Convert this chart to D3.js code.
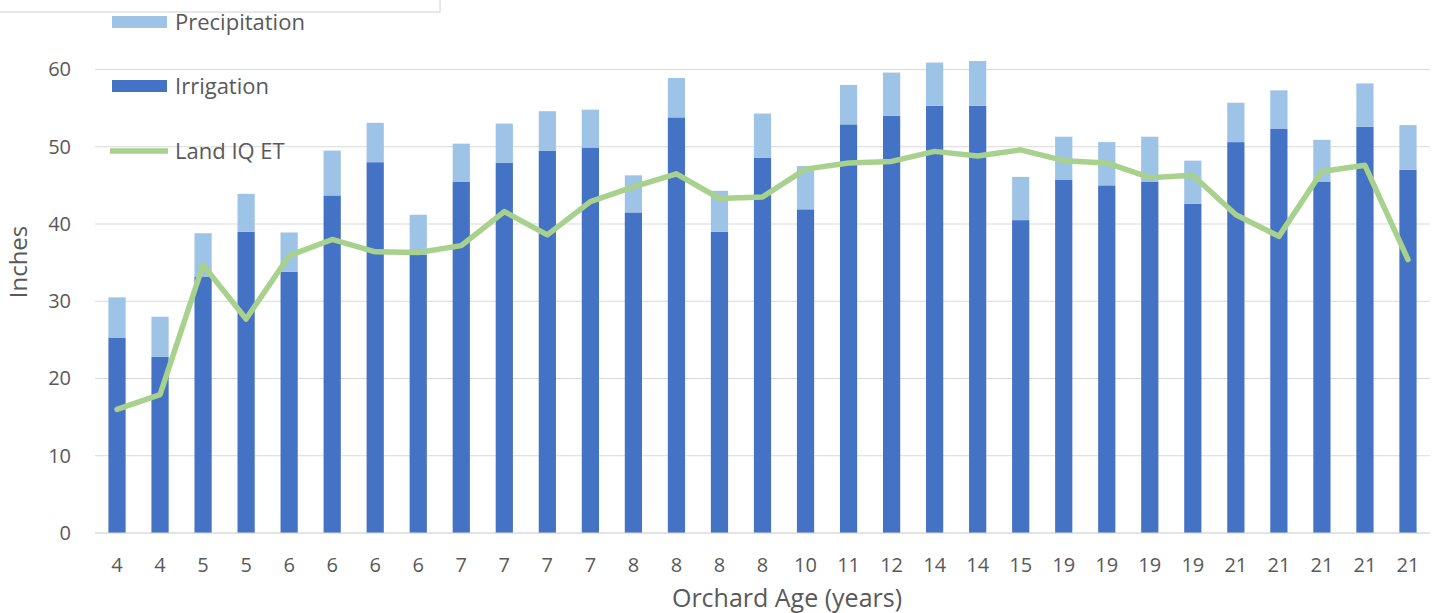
<!DOCTYPE html>
<html><head><meta charset="utf-8">
<script src="https://cdn.jsdelivr.net/npm/d3@7"></script>
<style>
html,body{margin:0;padding:0;background:#fff;}
svg text{font-family:"Open Sans","Noto Sans",sans-serif;fill:#595959;}
</style></head>
<body><svg id="c" width="1434" height="613"></svg>
<script>
const categories = ["4","4","5","5","6","6","6","6","7","7","7","7","8","8","8","8","10","11","12","14","14","15","19","19","19","19","21","21","21","21","21"];
const irrigation = [25.3,22.8,33.2,39.0,33.8,43.7,48.0,36.0,45.5,47.9,49.5,49.9,41.5,53.8,39.0,48.6,41.9,52.9,54.0,55.3,55.3,40.5,45.7,45.0,45.5,42.6,50.6,52.3,45.5,52.6,47.0];
const precipitation = [5.2,5.2,5.6,4.9,5.1,5.8,5.1,5.2,4.9,5.1,5.1,4.9,4.8,5.1,5.3,5.7,5.6,5.1,5.6,5.6,5.8,5.6,5.6,5.6,5.8,5.6,5.1,5.0,5.4,5.6,5.8];
const landIqET = [16.0,17.9,34.7,27.7,35.9,38.0,36.4,36.3,37.2,41.6,38.6,42.9,44.8,46.5,43.3,43.5,47.1,47.9,48.1,49.4,48.8,49.6,48.2,47.9,46.0,46.3,41.2,38.4,46.8,47.6,35.4];
const yTicks = [0,10,20,30,40,50,60];
const seriesNames = ["Precipitation","Irrigation","Land IQ ET"];
const colors = {irr:"#4472C4", pre:"#9DC3E6", et:"#A9D18E"};

const svg = d3.select("#c");
const idx = d3.range(categories.length);
const x = d3.scaleBand().domain(idx).range([95.5,1429.5]).paddingInner(0.6).paddingOuter(0.3);
const y = d3.scaleLinear().domain([0,60]).range([533,69.5]);

// gridlines
svg.append("g").selectAll("line").data(yTicks).join("line")
  .attr("x1",95).attr("x2",1430).attr("y1",d=>y(d)).attr("y2",d=>y(d))
  .attr("stroke","#d9d9d9").attr("stroke-width",1.2);

// y axis labels
const ya = svg.append("g").attr("transform","translate(71,0)")
  .call(d3.axisLeft(y).tickValues(yTicks).tickSize(0).tickPadding(0));
ya.select(".domain").remove();
ya.selectAll("text").attr("font-size",20).attr("fill","#595959").style("font-family","'Open Sans',sans-serif");

// bars
const stacked = idx.map(i=>({i, irr:irrigation[i], pre:precipitation[i]}));
svg.append("g").selectAll("rect").data(stacked).join("rect")
  .attr("x",d=>x(d.i)).attr("width",x.bandwidth())
  .attr("y",d=>y(d.irr)).attr("height",d=>y(0)-y(d.irr)).attr("fill",colors.irr);
svg.append("g").selectAll("rect").data(stacked).join("rect")
  .attr("x",d=>x(d.i)).attr("width",x.bandwidth())
  .attr("y",d=>y(d.irr+d.pre)).attr("height",d=>y(d.irr)-y(d.irr+d.pre)).attr("fill",colors.pre);

// ET line
svg.append("path").datum(idx)
  .attr("d", d3.line().x(i=>x(i)+x.bandwidth()/2).y(i=>y(landIqET[i])))
  .attr("fill","none").attr("stroke",colors.et).attr("stroke-width",5.5)
  .attr("stroke-linejoin","round").attr("stroke-linecap","round");

// x axis
const xa = svg.append("g").attr("transform","translate(0,533)")
  .call(d3.axisBottom(x).tickFormat(i=>categories[i]).tickSize(0).tickPadding(25));
xa.select(".domain").attr("stroke","#d9d9d9").attr("stroke-width",1.2).attr("d","M95,0H1430");
xa.selectAll("text").attr("font-size",20).attr("fill","#595959").style("font-family","'Open Sans',sans-serif");

// axis titles
svg.append("text").attr("x",787).attr("y",598).attr("dy","0.35em").attr("text-anchor","middle")
  .attr("font-size",25).text("Orchard Age (years)");
svg.append("text").attr("transform","translate(19,262) rotate(-90)").attr("dy","0.35em").attr("text-anchor","middle")
  .attr("font-size",24).text("Inches");

// legend box (clipped at top)
svg.append("rect").attr("x",-2).attr("y",-20).attr("width",442).attr("height",32)
  .attr("fill","#fff").attr("stroke","#d0d0d0").attr("stroke-width",1);

const lg = svg.append("g");
const legendY = [22,86,151];
lg.append("rect").attr("x",112).attr("y",legendY[0]-6).attr("width",55).attr("height",12).attr("fill",colors.pre);
lg.append("rect").attr("x",112).attr("y",legendY[1]-6).attr("width",55).attr("height",12).attr("fill",colors.irr);
lg.append("line").attr("x1",110).attr("x2",168).attr("y1",legendY[2]).attr("y2",legendY[2])
  .attr("stroke",colors.et).attr("stroke-width",5.5);
lg.selectAll("text").data(seriesNames).join("text")
  .attr("x",175).attr("y",(d,i)=>legendY[i]).attr("dy","0.35em")
  .attr("font-size",22).text(d=>d);
</script></body></html>
